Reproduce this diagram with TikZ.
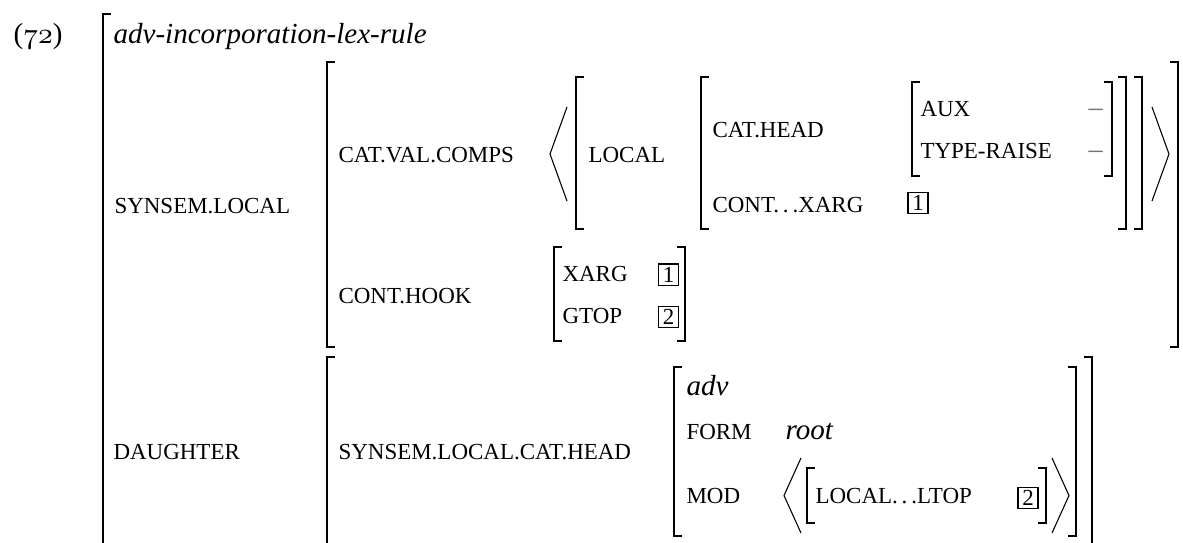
\documentclass[tikz,border=0pt]{standalone}
\usepackage{fontspec}
\setmainfont{Liberation Serif}
\begin{document}
\begin{tikzpicture}[scale=0.13,
    feat/.style={anchor=base west, font=\fontsize{8.5}{10}\selectfont},
    val/.style={anchor=base west, font=\fontsize{10.75}{12}\selectfont},
    minus/.style={anchor=base west, font=\fontsize{10.5}{12}\selectfont, text=black!55},
    brak/.style={line width=0.7pt},
    angl/.style={line width=0.4pt},
    tagbox/.style={draw, line width=0.4pt, minimum width=7.4pt, minimum height=7.8pt, font=\fontsize{8.5}{9}\selectfont}]
    \tikzstyle{every node}+=[inner sep=0pt]
    \useasboundingbox (0,0) rectangle (118.3,-54.2);
    \clip (0,0) rectangle (118.3,-54.2);
    % number and type
    \node [val] (num) at (1.3,-4.3) {($\mathnormal{72}$)};
    \node [val] (type) at (11.3,-4.3) {\textit{adv-incorporation-lex-rule}};
    \draw [brak] (11.1,-1.4) -- (10.3,-1.4) -- (10.3,-60);
    % synsem.local
    \node [feat] (synloc) at (11.4,-21.3) {SYNSEM.LOCAL};
    \draw [brak] (33.5,-6.2) -- (32.7,-6.2) -- (32.7,-34.7) -- (33.5,-34.7);
    \draw [brak] (117.0,-6.2) -- (117.8,-6.2) -- (117.8,-34.7) -- (117.0,-34.7);
    \node [feat] (comps) at (33.8,-16.2) {CAT.VAL.COMPS};
    \draw [angl] (56.7,-10.7) -- (55.0,-15.4) -- (56.7,-20.1);
    \draw [angl] (115.2,-10.7) -- (116.9,-15.4) -- (115.2,-20.1);
    \draw [brak] (58.4,-7.7) -- (57.6,-7.7) -- (57.6,-22.9) -- (58.4,-22.9);
    \draw [brak] (113.4,-7.7) -- (114.2,-7.7) -- (114.2,-22.9) -- (113.4,-22.9);
    \node [feat] (local) at (58.8,-16.2) {LOCAL};
    \draw [brak] (70.9,-7.7) -- (70.1,-7.7) -- (70.1,-22.9) -- (70.9,-22.9);
    \draw [brak] (111.8,-7.7) -- (112.6,-7.7) -- (112.6,-22.9) -- (111.8,-22.9);
    \node [feat] (cathead) at (71.2,-13.7) {CAT.HEAD};
    \draw [brak] (92.0,-8.2) -- (91.2,-8.2) -- (91.2,-17.6) -- (92.0,-17.6);
    \draw [brak] (110.4,-8.2) -- (111.2,-8.2) -- (111.2,-17.6) -- (110.4,-17.6);
    \node [feat] (aux) at (92.0,-11.6) {AUX};
    \node [minus] (auxv) at (108.8,-11.6) {--};
    \node [feat] (raise) at (92.0,-15.8) {TYPE-RAISE};
    \node [minus] (raisev) at (108.8,-15.8) {--};
    \node [feat] (xarg) at (71.2,-21.2) {CONT.\,.\,.XARG};
    \node [tagbox] (tagA) at (91.8,-20.3) {1};
    % cont.hook
    \node [feat] (hook) at (33.8,-30.3) {CONT.HOOK};
    \draw [brak] (56.2,-24.7) -- (55.4,-24.7) -- (55.4,-34.1) -- (56.2,-34.1);
    \draw [brak] (67.7,-24.7) -- (68.5,-24.7) -- (68.5,-34.1) -- (67.7,-34.1);
    \node [feat] (hxarg) at (56.2,-28.1) {XARG};
    \node [tagbox] (tagB) at (66.85,-27.45) {1};
    \node [feat] (gtop) at (56.2,-32.3) {GTOP};
    \node [tagbox] (tagC) at (66.85,-31.7) {2};
    % daughter
    \node [feat] (dtr) at (11.3,-45.9) {DAUGHTER};
    \draw [brak] (33.5,-35.7) -- (32.7,-35.7) -- (32.7,-60);
    \draw [brak] (108.4,-35.7) -- (109.2,-35.7) -- (109.2,-60);
    \node [feat] (dhead) at (33.8,-45.9) {SYNSEM.LOCAL.CAT.HEAD};
    \draw [brak] (68.2,-36.7) -- (67.4,-36.7) -- (67.4,-53.6) -- (68.2,-53.6);
    \draw [brak] (106.8,-36.7) -- (107.6,-36.7) -- (107.6,-53.6) -- (106.8,-53.6);
    \node [val] (adv) at (68.6,-39.5) {\textit{adv}};
    \node [feat] (form) at (68.6,-43.9) {FORM};
    \node [val] (root) at (78.5,-43.9) {\textit{root}};
    \node [feat] (mod) at (68.6,-50.3) {MOD};
    \draw [angl] (80.1,-45.8) -- (78.4,-49.55) -- (80.1,-53.3);
    \draw [angl] (105.2,-45.8) -- (106.9,-49.55) -- (105.2,-53.3);
    \draw [brak] (81.5,-46.8) -- (80.7,-46.8) -- (80.7,-52.3) -- (81.5,-52.3);
    \draw [brak] (103.8,-46.8) -- (104.6,-46.8) -- (104.6,-52.3) -- (103.8,-52.3);
    \node [feat] (ltop) at (81.5,-50.3) {LOCAL.\,.\,.LTOP};
    \node [tagbox] (tagD) at (102.8,-49.8) {2};
\end{tikzpicture}
\end{document}
